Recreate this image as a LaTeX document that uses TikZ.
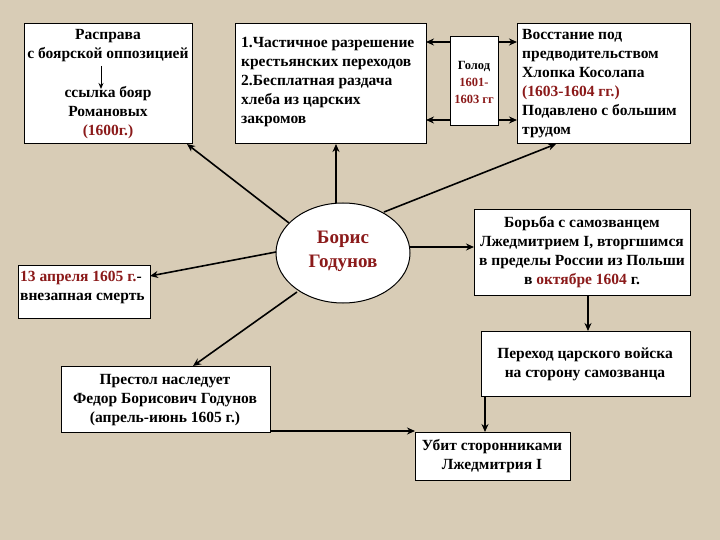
\documentclass[tikz,border=0pt]{standalone}
\usepackage{fontspec}
\setmainfont{Liberation Serif}
\usetikzlibrary{arrows.meta,shapes.geometric}
\definecolor{bg}{HTML}{D8CCB6}
\definecolor{dr}{HTML}{8B1A1A}
\begin{document}
\begin{tikzpicture}[x=1pt,y=-1pt,
  bx/.style={draw=black,fill=white,line width=1pt},
  tx/.style={font=\bfseries\fontsize{15.5}{19}\selectfont,align=center,inner sep=0pt},
  ar/.style={line width=1.6pt,-{Stealth[length=8pt,width=7pt]}}]
\fill[bg] (0,0) rectangle (720,540);
\useasboundingbox (0,0) rectangle (720,540);
% boxes
\draw[bx] (24,24) rectangle (192,144);
\node[tx] (t1a) at (108,46) {Расправа\\с боярской оппозицией};
\node[tx] (t1b) at (108,113) {ссылка бояр\\Романовых\\{\color{dr}(1600г.)}};
\coordinate (i1) at (101,66); \coordinate (i2) at (101,89);
\draw[line width=1pt,-{Stealth[length=6pt,width=5pt]}] (i1) -- (i2);
\draw[bx] (235,24) rectangle (426,144);
\node[tx,align=left,anchor=north west] (t2) at (241,37) {1.Частичное разрешение\\крестьянских переходов\\2.Бесплатная раздача\\хлеба из царских\\закромов};
\draw[bx] (450,37) rectangle (498,126);
\node[tx,font=\bfseries\fontsize{12.5}{17}\selectfont] (g) at (474,82) {Голод\\{\color{dr}1601-}\\{\color{dr}1603 гг}};
\draw[bx] (517,24) rectangle (690,144);
\node[tx,align=left,anchor=north west] (t4) at (522,29) {Восстание под\\предводительством\\Хлопка Косолапа\\{\color{dr}(1603-1604 гг.)}\\Подавлено с большим\\трудом};
\draw[bx] (474,210) rectangle (690,295);
\node[tx] (t5) at (582,252) {Борьба с самозванцем\\Лжедмитрием I, вторгшимся\\в пределы России из Польши\\в {\color{dr}октябре 1604} г.};
\draw[bx] (18,265) rectangle (150,318);
\node[tx,align=left,anchor=north west] (t6) at (20,271) {{\color{dr}13 апреля 1605 г.}-\\внезапная смерть};
\draw[bx] (481,331) rectangle (690,396);
\node[tx] (t7) at (585,364) {Переход царского войска\\на сторону самозванца};
\draw[bx] (61,366) rectangle (270,432);
\node[tx] (t8) at (165,400) {Престол наследует\\Федор Борисович Годунов\\(апрель-июнь 1605 г.)};
\draw[bx] (415,432) rectangle (570,480);
\node[tx] (t9) at (492,456) {Убит сторонниками\\Лжедмитрия I};
% center
\node[draw=black,fill=white,ellipse,minimum width=134pt,minimum height=100pt,line width=1pt,inner sep=0pt] (c) at (343,253) {};
\node[tx,font=\bfseries\fontsize{19}{24}\selectfont,text=dr] (ct) at (343,251) {Борис\\Годунов};
% arrow coordinates
\coordinate (e1) at (187,144);
\coordinate (e2) at (336,144);
\coordinate (e4) at (556,144);
\coordinate (e5) at (474,247);
\coordinate (e6) at (150,276);
\coordinate (e8) at (193,366);
\coordinate (s1) at (289,223);
\coordinate (s2) at (336,203);
\coordinate (s4) at (384,212);
\coordinate (s5) at (410,247);
\coordinate (s6) at (276,252);
\coordinate (s8) at (297,292);
\draw[ar] (s1) -- (e1);
\draw[ar] (s2) -- (e2);
\draw[ar] (s4) -- (e4);
\draw[ar] (s5) -- (e5);
\draw[ar] (s6) -- (e6);
\draw[ar] (s8) -- (e8);
\coordinate (g1) at (450,42); \coordinate (g2) at (426,42);
\coordinate (g3) at (450,120); \coordinate (g4) at (426,120);
\coordinate (g5) at (498,42); \coordinate (g6) at (517,42);
\coordinate (g7) at (498,120); \coordinate (g8) at (517,120);
\draw[ar] (g1) -- (g2); \draw[ar] (g3) -- (g4);
\draw[ar] (g5) -- (g6); \draw[ar] (g7) -- (g8);
\coordinate (p1) at (588,295); \coordinate (p2) at (588,331);
\draw[ar] (p1) -- (p2);
\coordinate (q1) at (485,396); \coordinate (q2) at (485,432);
\draw[ar] (q1) -- (q2);
\coordinate (r1) at (270,431); \coordinate (r2) at (415,431);
\draw[ar] (r1) -- (r2);
\end{tikzpicture}
\end{document}
